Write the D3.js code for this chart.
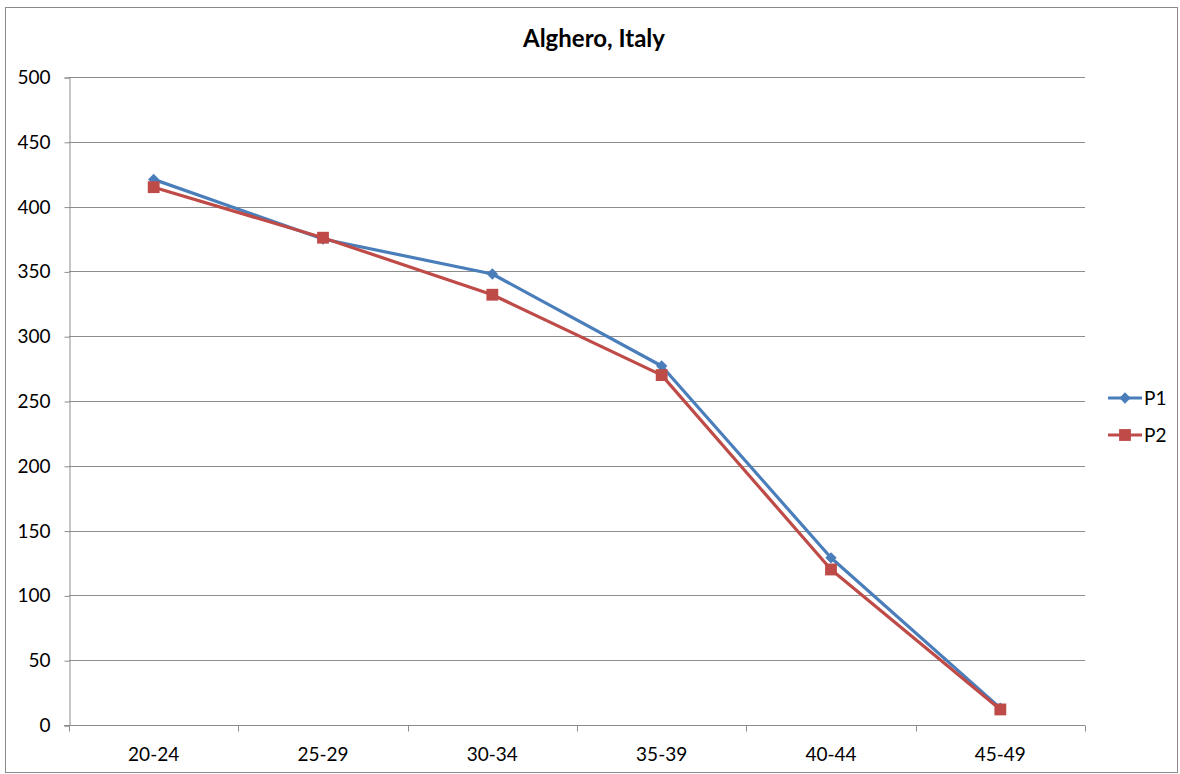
<!DOCTYPE html>
<html>
<head>
<meta charset="utf-8">
<script src="https://cdn.jsdelivr.net/npm/d3@7"></script>
<style>
  body { margin: 0; background: #fff; }
  svg { display: block; font-family: Lato, "Open Sans", sans-serif; }
</style>
</head>
<body>
<svg id="chart" width="1180" height="774"></svg>
<script>
// Age groups and the two series
const categories = ["20-24", "25-29", "30-34", "35-39", "40-44", "45-49"];
const p1Values = [421, 375, 348, 277, 129, 13];
const p2Values = [415, 376, 332, 270, 120, 12];
const yTicks = [0, 50, 100, 150, 200, 250, 300, 350, 400, 450, 500];
const seriesNames = ["P1", "P2"];

// Diamond = square turned 45 degrees; square = plain square
const series = [
  { name: seriesNames[0], values: p1Values, color: "#4A7EBB", size: 64, rotate: 45 },
  { name: seriesNames[1], values: p2Values, color: "#BE4B48", size: 140, rotate: 0 }
];

const svg = d3.select("#chart");
const W = 1180, H = 774;
const plot = { left: 69, right: 1085, top: 77, bottom: 725 };
const labelSize = 19;

// Chart frame
svg.append("rect")
  .attr("x", 5.5).attr("y", 7.5)
  .attr("width", W - 8).attr("height", H - 9)
  .attr("fill", "#fff").attr("stroke", "#8a8a8a").attr("stroke-width", 1);

const x = d3.scaleBand().domain(categories).range([plot.left, plot.right]).padding(0);
const y = d3.scaleLinear().domain([0, 500]).range([plot.bottom, plot.top]);

// Horizontal gridlines
svg.append("g").selectAll("line").data(yTicks.filter(t => t > 0)).join("line")
  .attr("x1", plot.left).attr("x2", plot.right)
  .attr("y1", d => Math.round(y(d)) + 0.5).attr("y2", d => Math.round(y(d)) + 0.5)
  .attr("stroke", "#8c8c8c").attr("stroke-width", 1);

// Y axis
const yAxis = svg.append("g")
  .attr("transform", `translate(${plot.left + 0.5},0.5)`)
  .call(d3.axisLeft(y).tickValues(yTicks).tickSize(5).tickPadding(14));
yAxis.selectAll("line, path").attr("stroke", "#8c8c8c");
yAxis.selectAll("text").attr("font-size", labelSize).attr("fill", "#000")
  .attr("font-family", "Lato, 'Open Sans', sans-serif");

// X axis with tick marks on category boundaries
const xAxis = svg.append("g")
  .attr("transform", `translate(0,${plot.bottom + 0.5})`);
xAxis.append("line")
  .attr("x1", plot.left - 5).attr("x2", plot.right)
  .attr("stroke", "#8c8c8c");
const bounds = categories.map(c => x(c)).concat([x(categories[categories.length - 1]) + x.bandwidth()]);
xAxis.selectAll("line.tick").data(bounds).join("line")
  .attr("class", "tick")
  .attr("x1", d => Math.round(d) + 0.5).attr("x2", d => Math.round(d) + 0.5)
  .attr("y1", 0).attr("y2", 6)
  .attr("stroke", "#8c8c8c");
xAxis.selectAll("text").data(categories).join("text")
  .attr("x", d => x(d) + x.bandwidth() / 2)
  .attr("y", 35.5)
  .attr("text-anchor", "middle")
  .attr("font-size", labelSize)
  .text(d => d);

// Title
svg.append("text")
  .attr("x", 594).attr("y", 47)
  .attr("text-anchor", "middle")
  .attr("font-size", 24).attr("font-weight", "bold")
  .text("Alghero, Italy");

// Series lines and markers
const line = d3.line()
  .x((d, i) => x(categories[i]) + x.bandwidth() / 2)
  .y(d => y(d));

series.forEach(s => {
  const g = svg.append("g");
  g.append("path")
    .datum(s.values)
    .attr("d", line)
    .attr("fill", "none")
    .attr("stroke", s.color)
    .attr("stroke-width", 3.2)
    .attr("stroke-linejoin", "round");
  g.selectAll("path.marker").data(s.values).join("path")
    .attr("class", "marker")
    .attr("transform", (d, i) => `translate(${x(categories[i]) + x.bandwidth() / 2},${y(d)}) rotate(${s.rotate})`)
    .attr("d", d3.symbol().type(d3.symbolSquare).size(s.size))
    .attr("fill", s.color);
});

// Legend
const legend = svg.append("g");
series.forEach((s, i) => {
  const ly = 398 + i * 37;
  legend.append("line")
    .attr("x1", 1108).attr("x2", 1142)
    .attr("y1", ly).attr("y2", ly)
    .attr("stroke", s.color).attr("stroke-width", 3.2);
  legend.append("path")
    .attr("transform", `translate(1125,${ly}) rotate(${s.rotate})`)
    .attr("d", d3.symbol().type(d3.symbolSquare).size(s.size))
    .attr("fill", s.color);
  legend.append("text")
    .attr("x", 1144).attr("y", ly + 7)
    .attr("font-size", labelSize)
    .text(s.name);
});
</script>
</body>
</html>
